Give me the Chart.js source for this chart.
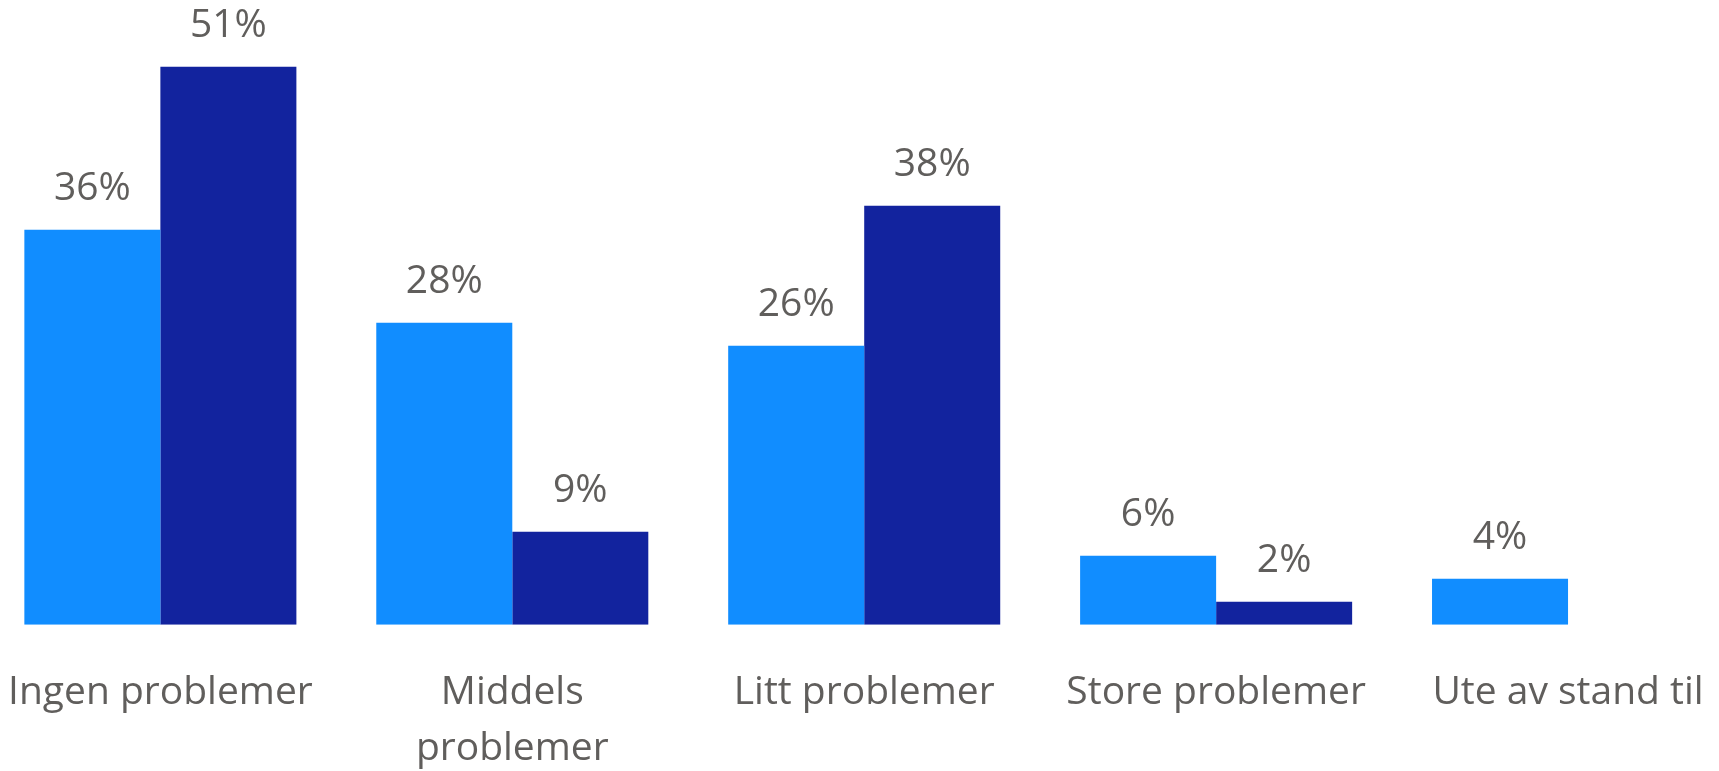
<!DOCTYPE html>
<html>
<head>
<meta charset="utf-8">
<script src="https://cdn.jsdelivr.net/npm/chart.js@4"></script>
<style>
  html, body { margin: 0; padding: 0; background: #fff; overflow: hidden; }
  body { width: 1719px; height: 771px; position: relative; }
  #wrap { position: absolute; left: -24px; top: 0; width: 1768px; height: 809px; }
</style>
</head>
<body>
<div id="wrap"><canvas id="chart"></canvas></div>
<script>
const categories = ["Ingen problemer", ["Middels", "problemer"], "Litt problemer", "Store problemer", "Ute av stand til"];
const seriesA = [36.1, 27.6, 25.5, 6.3, 4.2];
const seriesB = [51.0, 8.5, 38.3, 2.1, null];

const textColor = "#605E5C";
const fontFamily = "'Open Sans', 'Segoe UI', sans-serif";

// draws the % labels above each bar
const barLabels = {
  id: "barLabels",
  afterDatasetsDraw(chart) {
    const ctx = chart.ctx;
    ctx.save();
    ctx.font = "39px " + fontFamily;
    ctx.fillStyle = textColor;
    ctx.textAlign = "center";
    ctx.textBaseline = "alphabetic";
    chart.data.datasets.forEach((ds, i) => {
      const meta = chart.getDatasetMeta(i);
      meta.data.forEach((bar, j) => {
        const v = ds.data[j];
        if (v == null) return;
        ctx.fillText(Math.round(v) + "%", bar.x, bar.y - 30);
      });
    });
    ctx.restore();
  }
};

new Chart(document.getElementById("chart"), {
  type: "bar",
  data: {
    labels: categories,
    datasets: [
      { label: "A", data: seriesA, backgroundColor: "#118DFF" },
      { label: "B", data: seriesB, backgroundColor: "#12239E" }
    ]
  },
  options: {
    responsive: true,
    maintainAspectRatio: false,
    animation: false,
    layout: { padding: 0 },
    datasets: { bar: { categoryPercentage: 0.773, barPercentage: 1.0 } },
    plugins: { legend: { display: false }, tooltip: { enabled: false } },
    scales: {
      x: {
        grid: { display: false },
        border: { display: false },
        ticks: {
          color: textColor,
          padding: 32,
          maxRotation: 0,
          autoSkip: false,
          font: { family: fontFamily, size: 39, lineHeight: 1.44 }
        }
      },
      y: { display: false, min: 0, max: 57.1 }
    }
  },
  plugins: [barLabels]
});
</script>
</body>
</html>
